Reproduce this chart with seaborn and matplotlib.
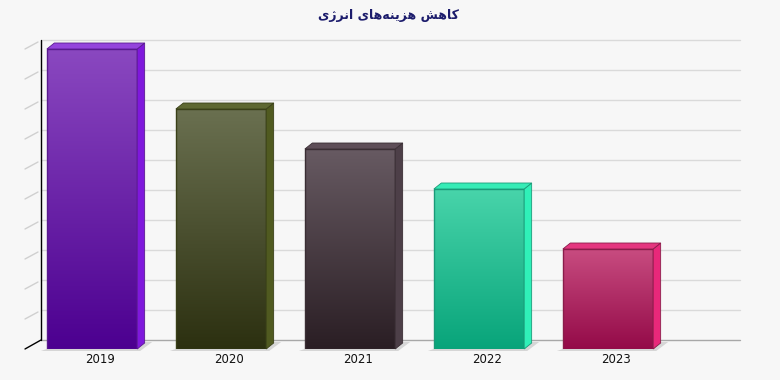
import numpy as np
import pandas as pd
import matplotlib
matplotlib.use("Agg")
import matplotlib.pyplot as plt
from matplotlib.colors import to_rgb
from matplotlib.patches import Polygon
from matplotlib.transforms import ScaledTranslation
import seaborn as sns

# ---- data ----
years = ["2019", "2020", "2021", "2022", "2023"]
values = [30, 24, 20, 16, 10]
grid_ticks = [0, 3, 6, 9, 12, 15, 18, 21, 24, 27, 30]
title_text = "کاهش هزینه‌های انرژی"
# visual (pre-shaped, left-to-right) form of the Persian title for matplotlib
title_visual = "\uFBFC\uFB8A\uFEAE\uFEE7\uFE8D \uFBFC\uFE8E\uFEEB\uFEEA\uFEE8\uFBFE\uFEB0\uFEEB \uFEB6\uFEEB\uFE8E\uFB90"

front_top = ["#8a48c0", "#6a7050", "#675a62", "#48d4aa", "#c84c80"]
front_bot = ["#4c0090", "#2c3010", "#2a1e24", "#08a47a", "#940a48"]
side_col = ["#7f18dc", "#505a20", "#4d3f48", "#30f0b8", "#e8287a"]
top_col = ["#9444dc", "#5e6832", "#5e4e58", "#36ecb6", "#e4367f"]
edge_col = ["#5a1a90", "#3a4018", "#3a2e34", "#1a9a78", "#8a1c4a"]

sns.set_theme(style="white")
W, H = 780, 380
fig = plt.figure(figsize=(W / 100, H / 100), dpi=100, facecolor="#f7f7f7")

# front plane of the chart in pixels
fx0, fx1 = 25, 724
fy_bottom, fy_top = 349, 49
ax = fig.add_axes([fx0 / W, (H - fy_bottom) / H, (fx1 - fx0) / W, (fy_bottom - fy_top) / H])
ax.set_facecolor("none")

df = pd.DataFrame({"year": years, "value": values})
sns.barplot(data=df, x="year", y="value", hue="year", palette=front_top,
            width=0.70, legend=False, ax=ax, zorder=3)

spacing_px = 129.0
xmin = -(92 - fx0) / spacing_px
xmax = xmin + (fx1 - fx0) / spacing_px
ymin, ymax = 0, 30
px_x = (fx1 - fx0) / (xmax - xmin)   # pixels per x unit
px_y = (fy_bottom - fy_top) / (ymax - ymin)

def dx(p):
    return p / px_x

def dy(p):
    return p / px_y

# back wall depth
BDX, BDY = 16, 9
# grid lines on back wall
for v in grid_ticks:
    col = "#a8a8a8" if v == 0 else "#dadada"
    ax.plot([xmin + dx(BDX), xmax + dx(BDX)], [v + dy(BDY), v + dy(BDY)],
            color=col, lw=1, clip_on=False, zorder=1)
    # left wall diagonals
    if v == 0:
        ax.plot([xmin, xmin + dx(BDX)], [v, v + dy(BDY)], color="black", lw=1,
                clip_on=False, zorder=2)
    else:
        ax.plot([xmin, xmin + dx(BDX - 3)], [v, v + dy(BDY - 2)], color="#d0d0d0",
                lw=1, clip_on=False, zorder=1)
# vertical axis line
ax.plot([xmin + dx(BDX), xmin + dx(BDX)], [0 + dy(BDY), ymax + dy(BDY)],
        color="black", lw=1, clip_on=False, zorder=2)

# bar depth
SDX, SDY = 7.5, 6
for i, patch in enumerate(ax.patches):
    x0 = patch.get_x()
    w = patch.get_width()
    h = patch.get_height()
    x1 = x0 + w
    # shadow on floor
    shadow = Polygon([(x0 - dx(6), -dy(2)), (x1 + dx(3), -dy(2)),
                      (x1 + dx(15), dy(7)), (x1 + dx(6), dy(7)), (x1, 0), (x0, 0)],
                     closed=True, facecolor="#d6d6d6", edgecolor="none",
                     clip_on=False, zorder=2)
    ax.add_patch(shadow)
    # gradient front
    c1 = np.array(to_rgb(front_top[i]))
    c2 = np.array(to_rgb(front_bot[i]))
    t = np.linspace(0, 1, 256)[:, None]
    grad = (c1 * (1 - t) + c2 * t)[:, None, :]
    im = ax.imshow(grad, extent=[x0, x1, 0, h], aspect="auto", origin="upper",
                   zorder=3, clip_on=False, interpolation="bilinear")
    patch.set_facecolor("none")
    patch.set_edgecolor(edge_col[i])
    patch.set_linewidth(1)
    patch.set_zorder(4)
    # side face
    side = Polygon([(x1, 0), (x1 + dx(SDX), dy(SDY)), (x1 + dx(SDX), h + dy(SDY)), (x1, h)],
                   closed=True, facecolor=side_col[i], edgecolor=edge_col[i], lw=0.6,
                   clip_on=False, zorder=4)
    ax.add_patch(side)
    # top face
    top = Polygon([(x0, h), (x1, h), (x1 + dx(SDX), h + dy(SDY)), (x0 + dx(SDX), h + dy(SDY))],
                  closed=True, facecolor=top_col[i], edgecolor=edge_col[i], lw=0.6,
                  clip_on=False, zorder=4)
    ax.add_patch(top)

ax.set_xlim(xmin, xmax)
ax.set_ylim(ymin, ymax)
ax.set_yticks([])
ax.set_xlabel("")
ax.set_ylabel("")
for s in ax.spines.values():
    s.set_visible(False)
ax.tick_params(axis="x", length=0, pad=3, labelsize=8.5, labelcolor="#111111")
for lab in ax.get_xticklabels():
    lab.set_fontfamily("DejaVu Sans")
    lab.set_transform(lab.get_transform() + ScaledTranslation(8 / 100, 0, fig.dpi_scale_trans))

fig.text(388 / W, 1 - 15 / H, title_visual, ha="center", va="center",
         fontsize=9, fontweight="bold", color="#1c1c6c",
         family=["DejaVu Sans", "Noto Sans"])

fig.savefig("out.png", dpi=100, facecolor=fig.get_facecolor())
